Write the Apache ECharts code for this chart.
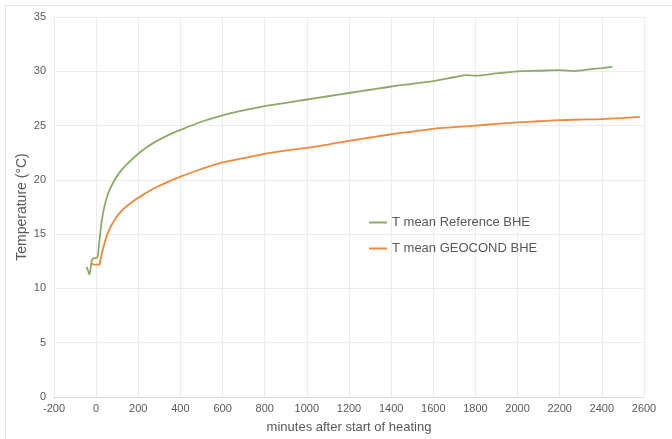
<!DOCTYPE html>
<html>
<head>
<meta charset="utf-8">
<script src="https://cdn.jsdelivr.net/npm/echarts@6/dist/echarts.min.js"></script>
<style>html,body{margin:0;padding:0;background:#fff;}#c{width:672px;height:439px;}</style>
</head>
<body>
<div id="c"></div>
<script>
var refName = 'T mean Reference BHE';
var geoName = 'T mean GEOCOND BHE';
var xTitle = 'minutes after start of heating';
var yTitle = 'Temperature (°C)';

var refX = [-45, -38, -32, -20, -10, 0, 8, 12, 18, 25, 40, 60, 85, 120, 160, 200, 240, 280, 340, 400, 500, 600, 700, 800, 900, 1000, 1100, 1200, 1300, 1400, 1500, 1600, 1700, 1760, 1800, 1900, 2000, 2100, 2200, 2270, 2350, 2400, 2450];
var refY = [12.0, 11.6, 11.3, 12.6, 12.8, 12.8, 13.0, 13.8, 14.8, 16.0, 17.6, 18.9, 19.9, 20.9, 21.7, 22.4, 23.0, 23.5, 24.1, 24.6, 25.35, 25.95, 26.4, 26.8, 27.1, 27.4, 27.7, 28.0, 28.3, 28.6, 28.85, 29.1, 29.45, 29.65, 29.6, 29.8, 30.0, 30.05, 30.1, 30.02, 30.2, 30.3, 30.4];

var geoX = [-20, -12, 0, 15, 20, 32, 55, 87, 126, 174, 200, 278, 400, 500, 600, 700, 800, 900, 1000, 1100, 1200, 1300, 1400, 1500, 1600, 1700, 1800, 1900, 2000, 2100, 2200, 2300, 2400, 2500, 2580];
var geoY = [12.3, 12.2, 12.2, 12.2, 12.6, 13.6, 15.1, 16.3, 17.25, 18.0, 18.35, 19.25, 20.3, 21.0, 21.6, 22.0, 22.4, 22.7, 22.95, 23.25, 23.6, 23.9, 24.2, 24.45, 24.7, 24.85, 25.0, 25.15, 25.3, 25.4, 25.5, 25.55, 25.6, 25.7, 25.8];

function pairs(xs, ys) { return xs.map(function (x, i) { return [x, ys[i]]; }); }

var chart = echarts.init(document.getElementById('c'), null, {renderer: 'canvas'});
var txt = '#595959';
var font = 'Liberation Sans, Arial, sans-serif';
chart.setOption({
  animation: false,
  backgroundColor: '#fff',
  textStyle: {fontFamily: font},
  grid: {left: 54, right: 28, top: 17, bottom: 41, containLabel: false},
  graphic: [
    {type: 'line', shape: {x1: 5.5, y1: 5.5, x2: 672, y2: 5.5}, style: {stroke: '#e3e3e3', lineWidth: 1}, silent: true},
    {type: 'line', shape: {x1: 5.5, y1: 5.5, x2: 5.5, y2: 439}, style: {stroke: '#e3e3e3', lineWidth: 1}, silent: true}
  ],
  legend: {
    orient: 'vertical', left: 364, top: 211, itemWidth: 18, itemHeight: 2, itemGap: 13,
    icon: 'rect',
    textStyle: {color: txt, fontSize: 13, fontFamily: font},
    data: [refName, geoName]
  },
  xAxis: {
    type: 'value', min: -200, max: 2600, interval: 200,
    name: xTitle, nameLocation: 'middle', nameGap: 24,
    nameTextStyle: {color: txt, fontSize: 13, fontFamily: font},
    axisLine: {show: true, lineStyle: {color: '#d9d9d9'}},
    axisTick: {show: false},
    axisLabel: {color: txt, fontSize: 11, fontFamily: font, margin: 6, formatter: function (v) { return String(v); }},
    splitLine: {show: true, lineStyle: {color: '#ececec'}}
  },
  yAxis: {
    type: 'value', min: 0, max: 35, interval: 5,
    name: yTitle, nameLocation: 'middle', nameGap: 25, nameRotate: 90, nameMoveOverlap: false,
    nameTextStyle: {color: txt, fontSize: 14, fontFamily: font},
    axisLine: {show: false},
    axisTick: {show: false},
    axisLabel: {color: txt, fontSize: 11, fontFamily: font, margin: 8},
    splitLine: {show: true, lineStyle: {color: '#ececec'}}
  },
  series: [
    {name: refName, type: 'line', data: pairs(refX, refY), showSymbol: false, smooth: 0.35,
     lineStyle: {color: '#8aab68', width: 1.8}, itemStyle: {color: '#8aab68'}},
    {name: geoName, type: 'line', data: pairs(geoX, geoY), showSymbol: false, smooth: 0.35,
     lineStyle: {color: '#f0883e', width: 1.8}, itemStyle: {color: '#f0883e'}}
  ]
});
</script>
</body>
</html>
